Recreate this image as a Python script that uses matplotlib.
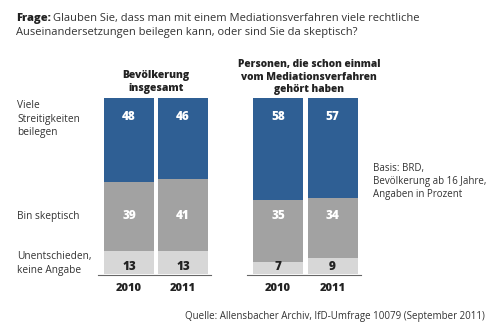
import matplotlib
matplotlib.use("Agg")
import matplotlib.pyplot as plt

# Survey data (percent)
groups = ["Bevölkerung\ninsgesamt", "Personen, die schon einmal\nvom Mediationsverfahren\ngehört haben"]
years = ["2010", "2011"]
viele = [48, 46, 58, 57]
skeptisch = [39, 41, 35, 34]
unentschieden = [13, 13, 7, 9]
row_labels = ["Viele\nStreitigkeiten\nbeilegen", "Bin skeptisch", "Unentschieden,\nkeine Angabe"]

BLUE = "#2f5f94"
GRAY = "#a2a2a2"
LIGHT = "#d7d7d7"
TXT = "#333333"

plt.rcParams["font.family"] = ["Open Sans", "DejaVu Sans"]

W, H = 500, 333
fig = plt.figure(figsize=(W / 100, H / 100), dpi=100)
fig.patch.set_facecolor("white")

# axes: x in pixel units across the figure, y in percent
y_bottom_px, y_top_px = 274, 98
ax = fig.add_axes([0, (H - y_bottom_px) / H, 1, (y_bottom_px - y_top_px) / H])
ax.set_xlim(0, W)
ax.set_ylim(0, 100)
ax.axis("off")

xpos = [129, 183, 278, 332.5]
bw = 50

for i, x in enumerate(xpos):
    u, s, v = unentschieden[i], skeptisch[i], viele[i]
    ax.bar(x, u, bw, bottom=0, color=LIGHT, linewidth=0)
    ax.bar(x, s, bw, bottom=u, color=GRAY, linewidth=0)
    ax.bar(x, v, bw, bottom=u + s, color=BLUE, linewidth=0)
    ax.text(x, 89.2, str(v), ha="center", va="center", color="white", fontsize=8.5, fontweight="heavy")
    ax.text(x, 33.0, str(s), ha="center", va="center", color="white", fontsize=8.5, fontweight="heavy")
    ax.text(x, 3.8, str(u), ha="center", va="center", color="#222222", fontsize=8.5, fontweight="heavy")
    ax.text(x, -8, years[i % 2], ha="center", va="center", color="#222222", fontsize=8, fontweight="heavy",
            clip_on=False)

# baselines under each group
for g in range(2):
    x0 = xpos[2 * g] - bw / 2 - 6
    x1 = xpos[2 * g + 1] + bw / 2 + 3
    ax.plot([x0, x1], [-0.3, -0.3], color="#666666", lw=0.8, clip_on=False)

def fy(px):
    return 1 - px / H

def fx(px):
    return px / W

# group headings
fig.text(fx(156), fy(82), groups[0], ha="center", va="center", fontsize=7.5, fontweight="heavy",
         color="#222222", linespacing=1.15)
fig.text(fx(309), fy(77), groups[1], ha="center", va="center", fontsize=7.3, fontweight="heavy",
         color="#222222", linespacing=1.2)

# row labels
fig.text(fx(17), fy(119), row_labels[0], ha="left", va="center", fontsize=7.3, color=TXT, linespacing=1.3)
fig.text(fx(17), fy(216), row_labels[1], ha="left", va="center", fontsize=7.3, color=TXT)
fig.text(fx(17), fy(263.5), row_labels[2], ha="left", va="center", fontsize=7.3, color=TXT, linespacing=1.3)

# question
fig.text(fx(16), fy(19), "Frage:", ha="left", va="center", fontsize=8, fontweight="heavy", color="#222222")
fig.text(fx(53), fy(19), "Glauben Sie, dass man mit einem Mediationsverfahren viele rechtliche",
         ha="left", va="center", fontsize=8, color=TXT)
fig.text(fx(16), fy(32), "Auseinandersetzungen beilegen kann, oder sind Sie da skeptisch?",
         ha="left", va="center", fontsize=8, color=TXT)

# base note
fig.text(fx(373), fy(181.5), "Basis: BRD,\nBevölkerung ab 16 Jahre,\nAngaben in Prozent",
         ha="left", va="center", fontsize=7, color=TXT, linespacing=1.2)

# source
fig.text(fx(485), fy(317), "Quelle: Allensbacher Archiv, IfD-Umfrage 10079 (September 2011)",
         ha="right", va="center", fontsize=7, color=TXT)

fig.savefig("out.png", dpi=100, facecolor="white")
